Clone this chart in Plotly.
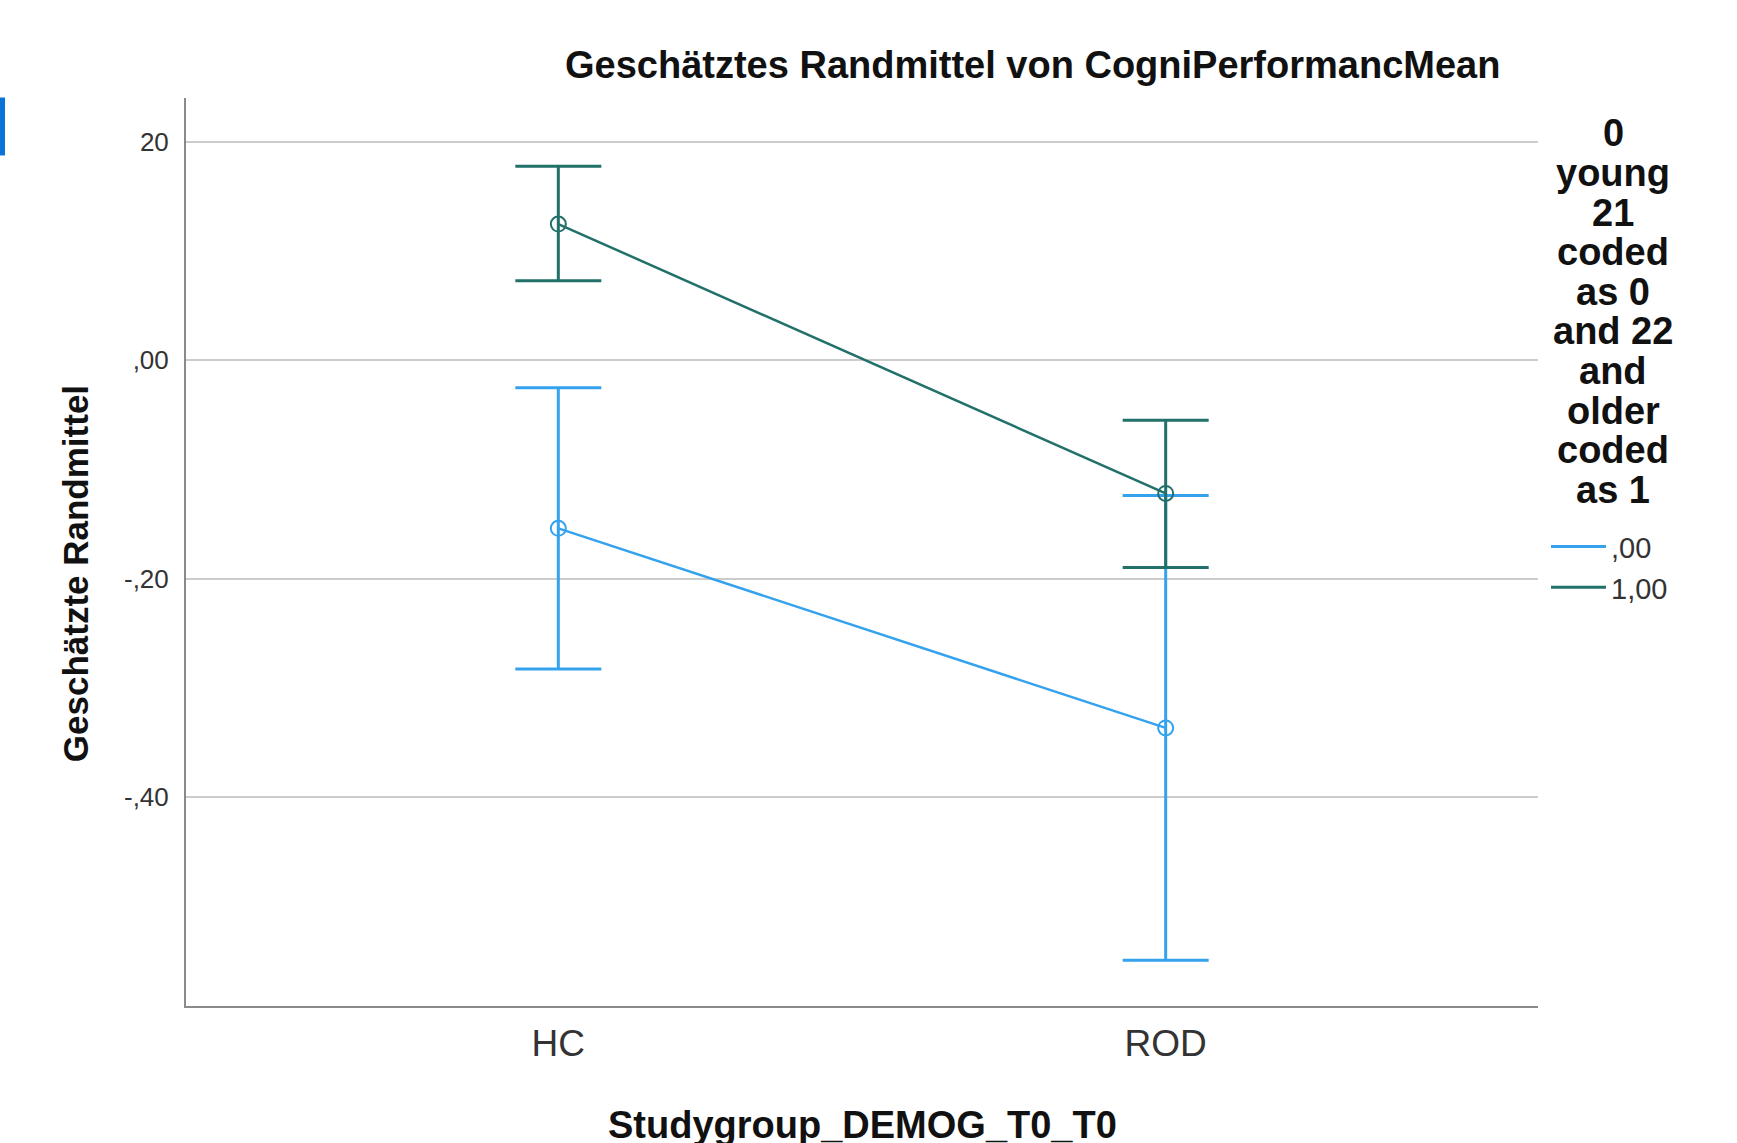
import plotly.graph_objects as go

# ---- data ----
categories = ["HC", "ROD"]
series_names = [",00", "1,00"]
mean_00 = [-0.154, -0.337]
lower_00 = [-0.283, -0.550]
upper_00 = [-0.025, -0.124]
mean_10 = [0.125, -0.122]
lower_10 = [0.073, -0.190]
upper_10 = [0.178, -0.055]
y_tickvals = [0.2, 0.0, -0.2, -0.4]
y_ticktext = ["20", ",00", "-,20", "-,40"]
legend_title_lines = ["0", "young", "21", "coded", "as 0", "and 22", "and",
                      "older", "coded", "as 1"]

# ---- styles ----
W, H = 1737, 1143
L, R, T, B = 186, 1538, 97.5, 1006
PW, PH = R - L, B - T
FONT = "Liberation Sans, Arial, sans-serif"
BLUE = "#35a2ee"
GREEN = "#22706a"


def px_x(x):
    return (x - L) / PW


def px_y(y):
    return (B - y) / PH


fig = go.Figure()
for name, m, lo, up, col in [
    (series_names[0], mean_00, lower_00, upper_00, BLUE),
    (series_names[1], mean_10, lower_10, upper_10, GREEN),
]:
    fig.add_trace(go.Scatter(
        x=categories, y=m, name=name, mode="lines+markers", showlegend=False,
        legendgroup=name,
        line=dict(color=col, width=2.5),
        marker=dict(symbol="circle-open", size=15, color=col, line=dict(width=2)),
        error_y=dict(type="data", symmetric=False,
                     array=[u - v for u, v in zip(up, m)],
                     arrayminus=[v - lo_ for v, lo_ in zip(m, lo)],
                     color=col, thickness=3, width=43),
    ))
for name, col in [(series_names[0], BLUE), (series_names[1], GREEN)]:
    fig.add_trace(go.Scatter(x=[None], y=[None], name=name, mode="lines",
                             legendgroup=name, line=dict(color=col, width=3)))

annotations = [
    dict(text="<b>Geschätztes Randmittel von CogniPerformancMean</b>",
         xref="paper", yref="paper", x=px_x(1032), y=px_y(64),
         xanchor="center", yanchor="middle", showarrow=False,
         font=dict(family=FONT, size=38, color="#111")),
    dict(text="<b>Geschätzte Randmittel</b>", textangle=-90,
         xref="paper", yref="paper", x=px_x(75), y=px_y(574),
         xanchor="center", yanchor="middle", showarrow=False,
         font=dict(family=FONT, size=35, color="#111")),
    dict(text="<b>Studygroup_DEMOG_T0_T0</b>",
         xref="paper", yref="paper", x=px_x(862), y=px_y(1125),
         xanchor="center", yanchor="middle", showarrow=False,
         font=dict(family=FONT, size=38, color="#111")),
]
for i, line in enumerate(legend_title_lines):
    annotations.append(dict(
        text="<b>%s</b>" % line, xref="paper", yref="paper",
        x=px_x(1613), y=px_y(133 + 39.6 * i), xanchor="center", yanchor="middle",
        showarrow=False, font=dict(family=FONT, size=38, color="#111")))

fig.update_layout(
    width=W, height=H,
    margin=dict(l=L, r=W - R, t=T, b=H - B),
    paper_bgcolor="white", plot_bgcolor="white",
    showlegend=True,
    legend=dict(x=px_x(1546), y=px_y(521), xanchor="left", yanchor="top",
                font=dict(family=FONT, size=29, color="#333"),
                itemwidth=55,
                bgcolor="rgba(0,0,0,0)", tracegroupgap=0),
    annotations=annotations,
    shapes=[dict(type="rect", xref="paper", yref="paper",
                 x0=px_x(0), x1=px_x(5), y0=px_y(155), y1=px_y(97),
                 fillcolor="#0a74d6", line=dict(width=0))],
    xaxis=dict(type="category", range=[-0.613, 1.613], showgrid=False,
               showline=True, linecolor="#8a8a8a", linewidth=2,
               ticks="", tickfont=dict(family=FONT, size=37, color="#333"),
               ticklabelstandoff=4, zeroline=False),
    yaxis=dict(range=[-0.592, 0.2406], tickvals=y_tickvals, ticktext=y_ticktext,
               showgrid=True, gridcolor="#cccccc", gridwidth=2,
               showline=True, linecolor="#8a8a8a", linewidth=2,
               ticks="", tickfont=dict(family=FONT, size=26, color="#333"),
               ticklabelstandoff=10, zeroline=False),
)

fig.write_html("out.html",
               config={"displayModeBar": False},
               post_script="document.body.style.margin='0';"
                           "document.body.style.overflow='hidden';")
